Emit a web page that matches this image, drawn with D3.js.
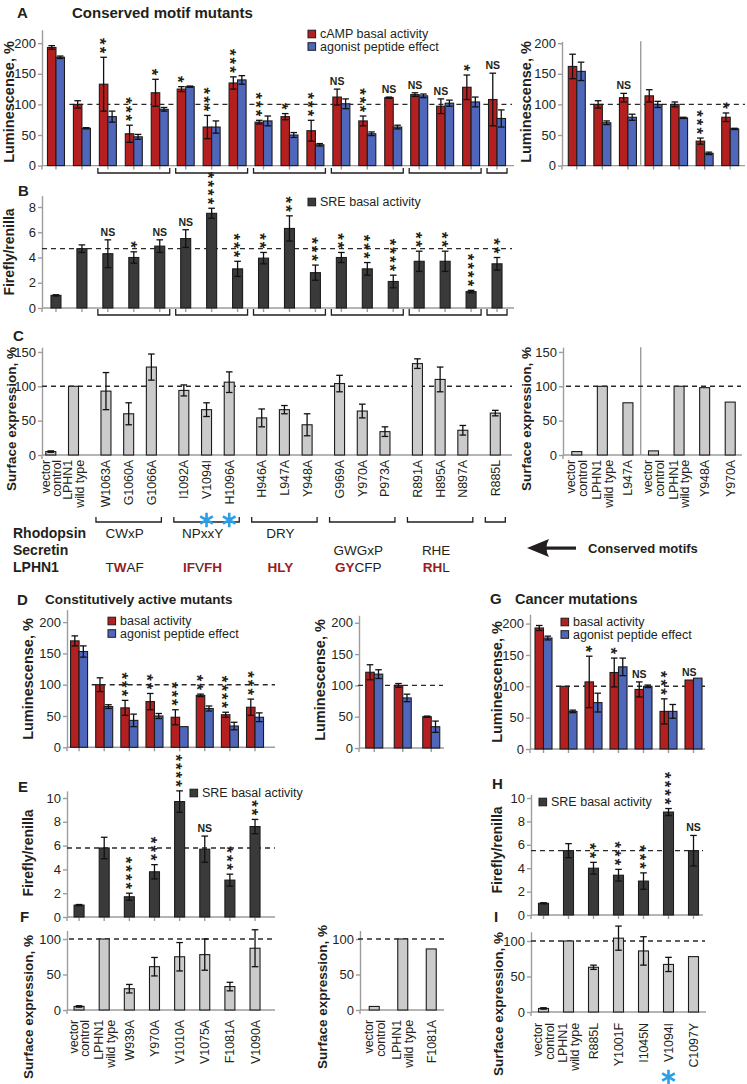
<!DOCTYPE html>
<html>
<head>
<meta charset="utf-8">
<script src="https://cdn.jsdelivr.net/npm/d3@7/dist/d3.min.js"></script>
<style>
html,body{margin:0;padding:0;background:#ffffff;}
svg{display:block;}
</style>
</head>
<body>
<div id="chart"></div>
<script>
// ================= DATA =================
// Panels A/B/C: conserved motif mutants
const motifCategories = ["vector control","LPHN1 wild type","W1063A","G1060A","G1066A","I1092A","V1094I","H1096A","H946A","L947A","Y948A","G969A","Y970A","P973A","R891A","H895A","N897A","R885L"];
const motifGroupIndex = [-1,-1,0,0,0,1,1,1,2,2,2,3,3,3,4,4,4,5];
const camBasal      = [193,100,133,52,119,125,63,135,71,80,57,112,73,111,116,97,128,108];
const camBasalErr   = [3,6,44,14,22,4,19,10,3,5,17,13,8,1,3,12,20,43];
const camAgonist    = [177,61,80,47,92,129,63,140,73,50,34,101,52,63,114,102,104,77];
const camAgonistErr = [2,1,9,4,3,1,10,7,8,4,2,8,3,3,3,5,8,14];
const camSig        = ["","","**","***","*","*","***","***","***","*","***","NS","***","NS","NS","NS","*","NS"];

const sreMotif    = [1.0,4.7,4.3,4.0,4.9,5.5,7.5,3.1,3.95,6.3,2.8,4.0,3.1,2.1,3.7,3.7,1.3,3.5];
const sreMotifErr = [0.05,0.3,1.1,0.45,0.5,0.7,0.4,0.6,0.45,1.0,0.6,0.4,0.5,0.5,0.8,0.8,0.1,0.5];
const sreMotifSig = ["","","NS","*","NS","NS","****","***","**","**","***","**","***","****","**","**","****","**"];
const sreMotifRef = 4.7;

const surfMotif    = [5,100,93,60,128,94,66,106,54,66,44,104,64,34,133,110,36,61];
const surfMotifErr = [1,0,27,16,19,8,10,15,13,6,16,12,10,7,7,18,7,4];

// right-hand controls for A / C
const ctrlCategories  = ["vector control","LPHN1 wild type","L947A","vector control","LPHN1 wild type","Y948A","Y970A"];
const ctrlBasal       = [162,100,111,114,100,40,79];
const ctrlBasalErr    = [20,6,7,10,4,5,7];
const ctrlAgonist     = [154,70,79,100,78,20,60];
const ctrlAgonistErr  = [15,3,5,5,1,2,1];
const ctrlSig         = ["","","NS","","","***","*"];
const ctrlSurface     = [5,100,76,6,100,98,77];

// motif annotation
const motifNames      = ["CWxP","NPxxY","DRY","GWGxP","RHE",""];
const motifFamilies   = ["Rhodopsin","Secretin"];
const motifFamilyOf   = [0,0,0,1,1,-1];
const lphn1Motifs     = ["TWAF","IFVFH","HLY","GYCFP","RHL",""];
const lphn1Conserved  = ["0100","11011","111","11000","110",""];
const motifMarked     = ["V1094I","H1096A"];

// Panels D/E/F: constitutively active mutants
const caCategories = ["vector control","LPHN1 wild type","W939A","Y970A","V1010A","V1075A","F1081A","V1090A"];
const caBasal      = [170,100,63,73,48,83,52,64];
const caBasalErr   = [8,11,12,13,12,2,4,13];
const caAgonist    = [153,65,43,50,33,62,34,48];
const caAgonistErr = [9,3,10,4,0,4,6,7];
const caSig        = ["","","***","**","***","**","****","***"];
const caSre        = [1.0,5.8,1.7,3.8,9.7,5.7,3.1,7.6];
const caSreErr     = [0.05,0.9,0.3,0.6,0.9,1.1,0.5,0.6];
const caSreSig     = ["","","****","***","****","NS","***","**"];
const caSreRef     = 5.8;
const caSurf       = [5,100,30,61,75,78,33,87];
const caSurfErr    = [1,0,6,13,20,22,6,26];
const caRCategories  = ["vector control","LPHN1 wild type","F1081A"];
const caRBasal       = [121,100,50];
const caRBasalErr    = [12,3,1];
const caRAgonist     = [118,80,34];
const caRAgonistErr  = [7,6,9];
const caRSurf        = [5,100,86];

// Panels G/H/I: cancer mutations
const cancerCategories = ["vector control","LPHN1 wild type","R885L","Y1001F","I1045N","V1094I","C1097Y"];
const cancerBasal      = [193,100,107,122,95,60,110];
const cancerBasalErr   = [4,0,41,23,12,20,0];
const cancerAgonist    = [177,60,74,131,100,60,113];
const cancerAgonistErr = [3,2,15,14,2,11,0];
const cancerSig        = ["","","*","*","NS","***","NS"];
const cancerSre        = [1.0,5.5,4.0,3.4,2.9,8.8,5.5];
const cancerSreErr     = [0.05,0.6,0.5,0.5,0.7,0.3,1.3];
const cancerSreSig     = ["","","**","***","***","****","NS"];
const cancerSreRef     = 5.5;
const cancerSurf       = [5,100,63,104,86,67,78];
const cancerSurfErr    = [1,0,3,17,20,10,0];
const cancerMarked     = ["V1094I"];

// ================= DRAWING =================
const FONT = "'Liberation Sans', Arial, Helvetica, sans-serif";
const INK = "#231f20", RED = "#b3201f", BLUE = "#4e67bb", DARK = "#3a3a3a",
      LIGHT = "#cbcbcb", AXIS = "#9d9d9d", EDGE = "#1c1c1c", MARK = "#2a9fe6", MOTIFRED = "#9b1c24";
const STAR = 17;

const svg = d3.select("#chart").append("svg")
  .attr("width", 747).attr("height", 1084).attr("font-family", FONT);

function addText(x, y, s, o = {}) {
  const t = svg.append("text").attr("x", x).attr("y", y).text(s)
    .attr("font-size", o.size || 13).attr("fill", o.fill || INK)
    .attr("font-weight", o.weight || "normal")
    .attr("text-anchor", o.anchor || "start");
  if (o.rotate) t.attr("transform", `rotate(${o.rotate},${x},${y})`);
  return t;
}

function yTitle(x, cy, s, size) {
  addText(x, cy, s, {size: size, weight: "bold", anchor: "middle", rotate: -90});
}

function legend(x, y, items) {
  items.forEach((it, k) => {
    svg.append("rect").attr("x", x).attr("y", y + k * 12.5 - 7.8)
      .attr("width", 7.6).attr("height", 7.6)
      .attr("fill", it.color).attr("stroke", EDGE).attr("stroke-width", 1);
    addText(x + 12, y + k * 12.5, it.label, {size: 12.5});
  });
}

function marker(x, y) {
  svg.append("path")
    .attr("transform", `translate(${x},${y})`)
    .attr("d", d3.symbol(d3.symbolAsterisk, 150)())
    .attr("fill", "none").attr("stroke", MARK).attr("stroke-width", 2.6);
}

function sigStack(g, xc, topPx, lab) {
  if (!lab) return;
  if (lab === "NS") {
    g.append("text").attr("x", xc).attr("y", topPx - 4).attr("text-anchor", "middle")
      .attr("font-size", 10.5).attr("font-weight", "bold").attr("fill", INK).text("NS");
    return;
  }
  // a vertical column of asterisks written as a single vertical text
  g.append("text")
    .attr("x", xc - 0.22 * STAR).attr("y", topPx - 2)
    .attr("writing-mode", "vertical-rl")
    .style("writing-mode", "vertical-rl")
    .attr("text-anchor", "end")
    .attr("font-size", STAR).attr("font-weight", "bold").attr("fill", INK)
    .attr("letter-spacing", 2)
    .text(lab);
}

function drawPanel(p) {
  const g = svg.append("g");
  const y = p.y;
  const isBand = typeof p.x.bandwidth === "function";
  const center = isBand ? (i => p.x(i) + p.x.bandwidth() / 2) : (i => p.x(p.slots[i]));
  const nSer = p.series.length;
  const halfW = p.bw * nSer / 2;
  const y0 = y(0);

  // y axis
  const ya = d3.axisLeft(y).tickValues(p.yTicks).tickSize(4).tickSizeOuter(0).tickPadding(2);
  const yg = g.append("g").attr("transform", `translate(${p.axisX},0)`).call(ya);
  yg.select(".domain").attr("stroke", AXIS).attr("stroke-width", 1.4);
  yg.selectAll(".tick line").attr("stroke", AXIS).attr("stroke-width", 1.4);
  yg.selectAll(".tick text").attr("font-family", FONT).attr("font-size", 13).attr("fill", INK);
  g.append("line").attr("x1", p.axisX).attr("x2", p.axisX).attr("y1", y0).attr("y2", y0 + 4)
    .attr("stroke", AXIS).attr("stroke-width", 1.4);

  // x axis
  g.append("line").attr("x1", p.axisX).attr("x2", p.axisEnd).attr("y1", y0).attr("y2", y0)
    .attr("stroke", AXIS).attr("stroke-width", 1.4);
  if (p.xTicks) {
    const xa = (isBand ? d3.axisBottom(p.x) : d3.axisBottom(p.x).tickValues(p.slots))
      .tickFormat("").tickSize(4).tickSizeOuter(0);
    const xg = g.append("g").attr("transform", `translate(0,${y0})`).call(xa);
    xg.select(".domain").remove();
    xg.selectAll(".tick line").attr("stroke", AXIS).attr("stroke-width", 1.4);
  }

  // divider between two sub-experiments
  if (p.dividerAfter != null) {
    const xd = (center(p.dividerAfter) + center(p.dividerAfter + 1)) / 2;
    g.append("line").attr("x1", xd).attr("x2", xd).attr("y1", y(y.domain()[1])).attr("y2", y0)
      .attr("stroke", AXIS).attr("stroke-width", 1.4);
  }

  // reference line
  if (p.ref != null) {
    const xs = p.refFromIndex != null ? center(p.refFromIndex) - halfW - 4 : p.refFrom;
    g.append("line").attr("x1", xs).attr("x2", p.refTo).attr("y1", y(p.ref)).attr("y2", y(p.ref))
      .attr("stroke", "#2a2a2a").attr("stroke-width", 1.4).attr("stroke-dasharray", "5,4");
  }

  // bars
  const sub = d3.scaleBand().domain(d3.range(nSer)).range([-halfW, halfW]);
  p.series.forEach((s, si) => {
    g.append("g").selectAll("rect").data(s.values).join("rect")
      .attr("x", (d, i) => center(i) + sub(si))
      .attr("width", sub.bandwidth())
      .attr("y", d => y(d))
      .attr("height", d => y0 - y(d))
      .attr("fill", s.color).attr("stroke", EDGE).attr("stroke-width", 1.1);
  });

  // error bars
  p.series.forEach((s, si) => {
    if (!s.errs) return;
    const eg = g.append("g").attr("stroke", "#111").attr("stroke-width", 1.3);
    s.values.forEach((v, i) => {
      const e = s.errs[i];
      if (!e) return;
      const xc = center(i) + sub(si) + sub.bandwidth() / 2;
      const yt = y(v + e), yb = y(Math.max(0, v - e));
      eg.append("line").attr("x1", xc).attr("x2", xc).attr("y1", yt).attr("y2", yb);
      eg.append("line").attr("x1", xc - 3.3).attr("x2", xc + 3.3).attr("y1", yt).attr("y2", yt);
      eg.append("line").attr("x1", xc - 3.3).attr("x2", xc + 3.3).attr("y1", yb).attr("y2", yb);
    });
  });

  // significance
  if (p.sig) {
    const s0 = p.series[0];
    p.sig.forEach((lab, i) => {
      if (!lab) return;
      const xc = center(i) + sub(0) + sub.bandwidth() / 2;
      const top = y(s0.values[i] + (s0.errs ? s0.errs[i] : 0));
      sigStack(g, xc, top, lab);
    });
  }

  // brackets grouping motif mutants
  if (p.brackets) {
    const groups = d3.groups(d3.range(p.groupIndex.length).filter(i => p.groupIndex[i] >= 0), i => p.groupIndex[i]);
    groups.forEach(([gi, idx]) => {
      const x1 = center(idx[0]) - 10, x2 = center(idx[idx.length - 1]) + 10;
      g.append("path")
        .attr("d", `M${x1},${p.brackets[0]}V${p.brackets[1]}H${x2}V${p.brackets[0]}`)
        .attr("fill", "none").attr("stroke", INK).attr("stroke-width", 1.3);
    });
  }

  // rotated category labels
  if (p.labels) {
    p.labels.forEach((lab, i) => {
      const w = lab.split(" ");
      const lines = (w[0] === "vector" || w[0] === "LPHN1") ? [w[0], w.slice(1).join(" ")] : [lab];
      lines.forEach((ln, k) => {
        const cxk = center(i) + (k - (lines.length - 1) / 2) * 11.6;
        g.append("text")
          .attr("transform", `translate(${cxk + 4.5},${p.labelTop}) rotate(-90)`)
          .attr("text-anchor", "end").attr("font-size", 12.5).attr("fill", INK)
          .attr("letter-spacing", "-0.1px")
          .text(ln);
      });
    });
  }
  return center;
}

// ---------- Panel A (left) ----------
const xMotif = d3.scaleBand().domain(d3.range(motifCategories.length)).range([43, 510]);
const yLumA = d3.scaleLinear().domain([0, 222]).range([165.6, 165.6 - 222 * 0.612]);
drawPanel({
  x: xMotif, y: yLumA, yTicks: [0, 50, 100, 150, 200], axisX: 42, axisEnd: 514,
  series: [{values: camBasal, errs: camBasalErr, color: RED}, {values: camAgonist, errs: camAgonistErr, color: BLUE}],
  bw: 8.5, sig: camSig, ref: 100, refFromIndex: 1, refTo: 512, xTicks: true,
  groupIndex: motifGroupIndex, brackets: [168, 173]
});
// ---------- Panel A (right) ----------
const xCtrl = d3.scaleBand().domain(d3.range(ctrlCategories.length)).range([564, 743]);
const yLumAR = d3.scaleLinear().domain([0, 203]).range([165.6, 165.6 - 203 * 0.612]);
drawPanel({
  x: xCtrl, y: yLumAR, yTicks: [0, 50, 100, 150, 200], axisX: 562, axisEnd: 745,
  series: [{values: ctrlBasal, errs: ctrlBasalErr, color: RED}, {values: ctrlAgonist, errs: ctrlAgonistErr, color: BLUE}],
  bw: 8.5, sig: ctrlSig, ref: 100, refFromIndex: 1, refTo: 745, xTicks: true, dividerAfter: 2
});

// ---------- Panel B ----------
const ySreB = d3.scaleLinear().domain([0, 8.9]).range([308, 308 - 8.9 * 12.625]);
drawPanel({
  x: xMotif, y: ySreB, yTicks: [0, 2, 4, 6, 8], axisX: 42, axisEnd: 514,
  series: [{values: sreMotif, errs: sreMotifErr, color: DARK}],
  bw: 10, sig: sreMotifSig, ref: sreMotifRef, refFrom: 42, refTo: 512, xTicks: true,
  groupIndex: motifGroupIndex, brackets: [309, 315]
});

// ---------- Panel C (left) ----------
const motifSlots = motifCategories.map((c, i) => i + 0.43 * (motifGroupIndex[i] + 1));
const xSurfC = d3.scaleLinear().domain([0, d3.max(motifSlots)]).range([50.8, 495.3]);
const ySurfC = d3.scaleLinear().domain([0, 157]).range([455, 455 - 157 * 0.687]);
const centerC = drawPanel({
  x: xSurfC, slots: motifSlots, y: ySurfC, yTicks: [0, 50, 100, 150], axisX: 42, axisEnd: 512,
  series: [{values: surfMotif, errs: surfMotifErr, color: LIGHT}],
  bw: 10, ref: 100, refFrom: 42, refTo: 512, xTicks: false,
  groupIndex: motifGroupIndex, brackets: [517, 522], labels: motifCategories, labelTop: 460
});
// ---------- Panel C (right) ----------
drawPanel({
  x: xCtrl, y: ySurfC, yTicks: [0, 50, 100, 150], axisX: 563, axisEnd: 742,
  series: [{values: ctrlSurface, color: LIGHT}],
  bw: 10, ref: 100, refFrom: 566, refTo: 741, xTicks: false, dividerAfter: 2,
  labels: ctrlCategories, labelTop: 460
});

// blue markers under labels in C
motifMarked.forEach(m => marker(centerC(motifCategories.indexOf(m)), 520));

// motif rows
const familyY = [538, 555];
motifFamilies.forEach((f, k) => addText(13, familyY[k], f, {size: 14, weight: "bold"}));
addText(13, 572, "LPHN1", {size: 14, weight: "bold"});
motifNames.forEach((m, gi) => {
  if (!m) return;
  const idx = d3.range(motifCategories.length).filter(i => motifGroupIndex[i] === gi);
  const cx = (centerC(idx[0]) + centerC(idx[idx.length - 1])) / 2 - 4;
  addText(cx, familyY[motifFamilyOf[gi]], m, {size: 13.5, anchor: "middle"});
  const t = svg.append("text").attr("x", cx).attr("y", 572).attr("text-anchor", "middle")
    .attr("font-size", 13.5);
  lphn1Motifs[gi].split("").forEach((ch, k) => {
    const hi = lphn1Conserved[gi][k] === "1";
    t.append("tspan").text(ch).attr("fill", hi ? MOTIFRED : INK).attr("font-weight", hi ? "bold" : "normal");
  });
});
// "Conserved motifs" arrow
svg.append("path").attr("d", "M527,548 L549,539 Q544,548 549,557 Z").attr("fill", INK);
svg.append("rect").attr("x", 544).attr("y", 546.5).attr("width", 32).attr("height", 3.2).attr("fill", INK);
addText(588, 553, "Conserved motifs", {size: 13, weight: "bold"});

// ---------- Panel D ----------
const xCA = d3.scaleBand().domain(d3.range(caCategories.length)).range([66.5, 267.6]);
const yLumD = d3.scaleLinear().domain([0, 220]).range([747.3, 747.3 - 220 * 0.626]);
drawPanel({
  x: xCA, y: yLumD, yTicks: [0, 50, 100, 150, 200], axisX: 67, axisEnd: 275,
  series: [{values: caBasal, errs: caBasalErr, color: RED}, {values: caAgonist, errs: caAgonistErr, color: BLUE}],
  bw: 8.5, sig: caSig, ref: 100, refFromIndex: 1, refTo: 275, xTicks: true
});
const xCAR = d3.scaleBand().domain(d3.range(caRCategories.length)).range([360, 445.5]);
const yLumDR = d3.scaleLinear().domain([0, 212]).range([748, 748 - 212 * 0.626]);
drawPanel({
  x: xCAR, y: yLumDR, yTicks: [0, 50, 100, 150, 200], axisX: 359, axisEnd: 444,
  series: [{values: caRBasal, errs: caRBasalErr, color: RED}, {values: caRAgonist, errs: caRAgonistErr, color: BLUE}],
  bw: 8.5, ref: 100, refFrom: 358, refTo: 443, xTicks: true
});

// ---------- Panel E ----------
const ySreE = d3.scaleLinear().domain([0, 10.6]).range([917, 917 - 10.6 * 11.9]);
drawPanel({
  x: xCA, y: ySreE, yTicks: [0, 2, 4, 6, 8, 10], axisX: 67, axisEnd: 275,
  series: [{values: caSre, errs: caSreErr, color: DARK}],
  bw: 10, sig: caSreSig, ref: caSreRef, refFrom: 67, refTo: 275, xTicks: true
});

// ---------- Panel F ----------
const ySurfF = d3.scaleLinear().domain([0, 112]).range([1010, 1010 - 112 * 0.71]);
drawPanel({
  x: xCA, y: ySurfF, yTicks: [0, 50, 100], axisX: 67, axisEnd: 275,
  series: [{values: caSurf, errs: caSurfErr, color: LIGHT}],
  bw: 10, ref: 100, refFrom: 69, refTo: 275, xTicks: false,
  labels: caCategories, labelTop: 1020
});
drawPanel({
  x: xCAR, y: ySurfF, yTicks: [0, 50, 100], axisX: 360, axisEnd: 444,
  series: [{values: caRSurf, color: LIGHT}],
  bw: 10, ref: 100, refFrom: 358, refTo: 444, xTicks: false,
  labels: caRCategories, labelTop: 1020
});

// ---------- Panel G ----------
const xCancer = d3.scaleBand().domain(d3.range(cancerCategories.length)).range([531, 706]);
const yLumG = d3.scaleLinear().domain([0, 215]).range([749, 749 - 215 * 0.627]);
drawPanel({
  x: xCancer, y: yLumG, yTicks: [0, 50, 100, 150, 200], axisX: 530, axisEnd: 705,
  series: [{values: cancerBasal, errs: cancerBasalErr, color: RED}, {values: cancerAgonist, errs: cancerAgonistErr, color: BLUE}],
  bw: 8.5, sig: cancerSig, ref: 100, refFromIndex: 1, refTo: 705, xTicks: true
});

// ---------- Panel H ----------
const ySreH = d3.scaleLinear().domain([0, 10.3]).range([915, 915 - 10.3 * 11.7]);
drawPanel({
  x: xCancer, y: ySreH, yTicks: [0, 2, 4, 6, 8, 10], axisX: 531, axisEnd: 703,
  series: [{values: cancerSre, errs: cancerSreErr, color: DARK}],
  bw: 10, sig: cancerSreSig, ref: cancerSreRef, refFrom: 531, refTo: 703, xTicks: true
});

// ---------- Panel I ----------
const ySurfI = d3.scaleLinear().domain([0, 113]).range([1012, 1012 - 113 * 0.71]);
const centerI = drawPanel({
  x: xCancer, y: ySurfI, yTicks: [0, 50, 100], axisX: 531, axisEnd: 706,
  series: [{values: cancerSurf, errs: cancerSurfErr, color: LIGHT}],
  bw: 10, ref: 100, refFrom: 531, refTo: 705, xTicks: false,
  labels: cancerCategories, labelTop: 1023
});
cancerMarked.forEach(m => marker(centerI(cancerCategories.indexOf(m)), 1077));

// ---------- Titles, letters, legends, axis titles ----------
addText(17, 18, "A", {size: 15, weight: "bold"});
addText(72, 18, "Conserved motif mutants", {size: 15, weight: "bold"});
legend(308, 38, [{color: RED, label: "cAMP basal activity"}, {color: BLUE, label: "agonist peptide effect"}]);
addText(18, 196, "B", {size: 15, weight: "bold"});
legend(308, 206, [{color: DARK, label: "SRE basal activity"}]);
addText(13, 341, "C", {size: 15, weight: "bold"});

addText(17, 605, "D", {size: 15, weight: "bold"});
addText(45, 604, "Constitutively active mutants", {size: 13.5, weight: "bold"});
legend(108, 625, [{color: RED, label: "basal activity"}, {color: BLUE, label: "agonist peptide effect"}]);
addText(18, 792, "E", {size: 15, weight: "bold"});
legend(190, 797, [{color: DARK, label: "SRE basal activity"}]);
addText(20, 922, "F", {size: 15, weight: "bold"});

addText(490, 604, "G", {size: 15, weight: "bold"});
addText(515, 604, "Cancer mutations", {size: 14.5, weight: "bold"});
legend(561, 626, [{color: RED, label: "basal activity"}, {color: BLUE, label: "agonist peptide effect"}]);
addText(492, 789, "H", {size: 15, weight: "bold"});
legend(539, 806, [{color: DARK, label: "SRE basal activity"}]);
addText(494, 922, "I", {size: 15, weight: "bold"});

yTitle(14, 102, "Luminescense, %", 14.5);
yTitle(531, 102, "Luminescense, %", 14.5);
yTitle(14, 252, "Firefly/renilla", 14);
yTitle(16, 419, "Surface expression, %", 13.5);
yTitle(531, 419, "Surface expression, %", 13.5);
yTitle(33, 679, "Luminescense, %", 14.5);
yTitle(325, 680, "Luminescense, %", 14.5);
yTitle(33, 853, "Firefly/renilla", 14);
yTitle(33, 1007, "Surface expression, %", 13.5);
yTitle(327, 997, "Surface expression, %", 13.5);
yTitle(502, 682, "Luminescense, %", 14.5);
yTitle(502, 850, "Firefly/renilla", 14);
yTitle(503, 1004, "Surface expression, %", 13.5);
</script>
</body>
</html>
